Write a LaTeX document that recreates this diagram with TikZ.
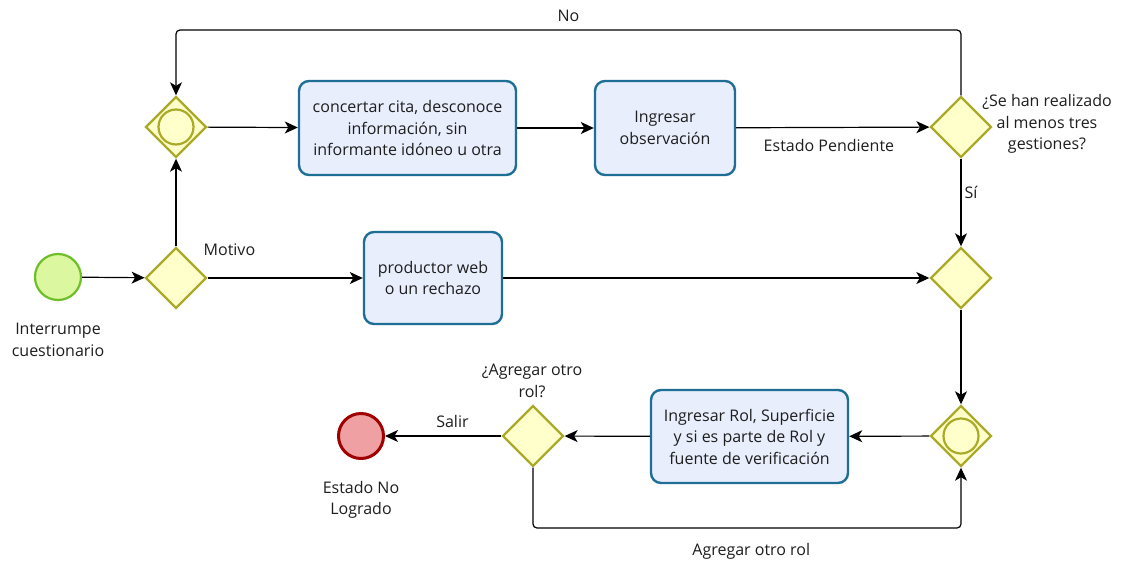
\documentclass[tikz,border=0pt]{standalone}
\usepackage{fontspec}
\setmainfont{Open Sans}
\usetikzlibrary{shapes.geometric,arrows.meta}
\definecolor{gwfill}{RGB}{255,255,204}
\definecolor{gwdraw}{RGB}{170,170,40}
\definecolor{tkfill}{RGB}{232,238,252}
\definecolor{tkdraw}{RGB}{30,110,150}
\definecolor{stfill}{RGB}{219,247,160}
\definecolor{stdraw}{RGB}{110,190,40}
\definecolor{enfill}{RGB}{238,160,162}
\definecolor{endraw}{RGB}{160,0,0}
\definecolor{txt}{RGB}{30,30,30}
\tikzset{
  gw/.style={diamond,draw=gwdraw,fill=gwfill,line width=2.4pt,minimum width=61pt,minimum height=61pt,inner sep=0pt,aspect=1},
  gwc/.style={circle,draw=gwdraw,line width=2.2pt,minimum size=35pt,inner sep=0pt},
  task/.style={rectangle,rounded corners=10pt,draw=tkdraw,fill=tkfill,line width=2.4pt,align=center,text=txt,inner sep=2pt},
  ev/.style={circle,line width=2.2pt,minimum size=46pt,inner sep=0pt},
  lbl/.style={text=txt,align=center,inner sep=0pt},
  flow/.style={line width=1.2pt,-{Stealth[length=13pt,width=12pt,inset=3.5pt]},rounded corners=4pt},
}
\begin{document}
\begin{tikzpicture}[x=1pt,y=-1pt,font=\fontsize{16}{21.5}\selectfont]
\useasboundingbox[fill=white] (0,0) rectangle (1122,563);
% events
\node[ev,draw=stdraw,fill=stfill] (start) at (58,277) {};
\node[ev,draw=endraw,fill=enfill,line width=3pt,minimum size=45pt] (end) at (361,436) {};
% gateways
\node[gw] (g1) at (176,278) {};
\node[gw] (g2) at (176,127) {};
\node[gwc] (g2c) at (176,127) {};
\node[gw] (g3) at (961,127) {};
\node[gw] (g4) at (961,278) {};
\node[gw] (g5) at (961,436) {};
\node[gwc] (g5c) at (961,436) {};
\node[gw] (g6) at (533,436) {};
% tasks
\node[task,minimum width=217pt,minimum height=94pt] (t1) at (407.5,128) {concertar cita, desconoce\\información, sin\\informante idóneo u otra};
\node[task,minimum width=140pt,minimum height=94pt] (t2) at (665,128) {Ingresar\\observación};
\node[task,minimum width=138pt,minimum height=92pt] (t3) at (433,278) {productor web\\o un rechazo};
\node[task,minimum width=197pt,minimum height=93pt] (t4) at (749.5,436.5) {Ingresar Rol, Superficie\\y si es parte de Rol y\\fuente de verificación};
% labels
\node[lbl] (lstart) at (58,340) {Interrumpe\\cuestionario};
\node[lbl] (lend) at (361,500) {Estado No\\Logrado};
\node[lbl] (lg3) at (1047,124) {¿Se han realizado\\al menos tres\\gestiones?};
\node[lbl] (lg6) at (532,381) {¿Agregar otro\\rol?};
% flows
\draw[flow] (start) -- (g1);
\draw[flow] (g1) -- (g2);
\draw[flow] (g1) -- node[lbl,pos=0.14,yshift=28pt] {Motivo} (t3);
\draw[flow] (t3) -- (g4);
\draw[flow] (g2) -- (t1);
\draw[flow] (t1) -- (t2);
\draw[flow] (t2) -- node[lbl,pos=0.48,yshift=-18pt] {Estado Pendiente} (g3);
\draw[flow] (g3) -- node[lbl,pos=0.39,xshift=10pt] {Sí} (g4);
\coordinate (nr) at (961,30);
\coordinate (nl) at (176,30);
\draw[flow] (g3.north) -- (nr) -- node[lbl,pos=0.5,yshift=14pt] {No} (nl) -- (g2.north);
\draw[flow] (g4) -- (g5);
\draw[flow] (g5) -- (t4);
\draw[flow] (t4) -- (g6);
\draw[flow] (g6) -- node[lbl,pos=0.42,yshift=15pt] {Salir} (end);
\coordinate (al) at (533,528);
\coordinate (ar) at (961,528);
\draw[flow] (g6.south) -- (al) -- node[lbl,pos=0.51,yshift=-23pt] {Agregar otro rol} (ar) -- (g5.south);
\end{tikzpicture}
\end{document}
